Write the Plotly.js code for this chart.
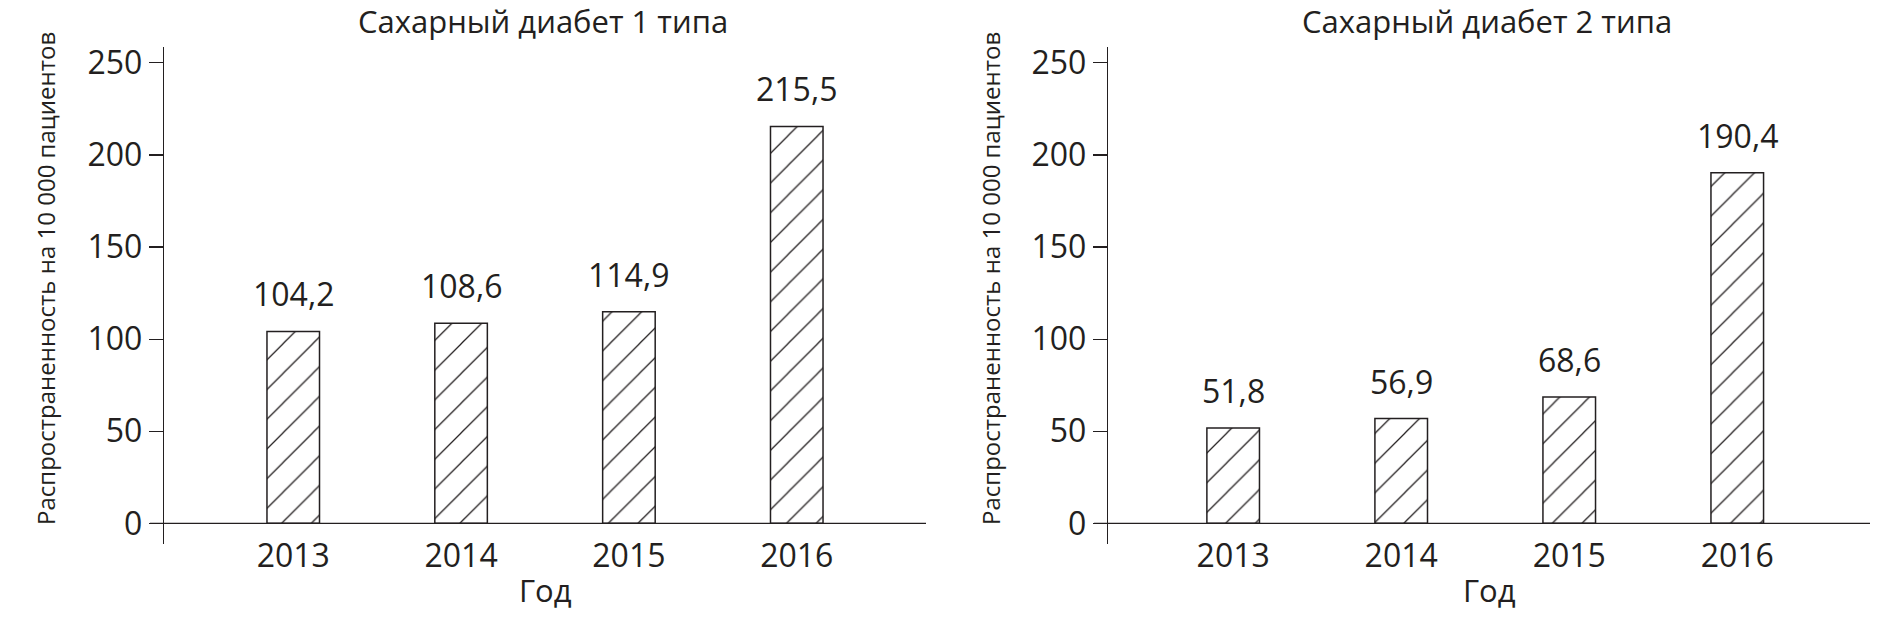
<!DOCTYPE html>
<html>
<head>
<meta charset="utf-8">
<script src="https://cdn.plot.ly/plotly-3.0.1.min.js"></script>
<style>
  html, body { margin: 0; padding: 0; background: #ffffff; }
  #chart { width: 1891px; height: 623px; }
</style>
</head>
<body>
<div id="chart"></div>
<script>
// ---- data ----
const years = ['2013', '2014', '2015', '2016'];
const type1Values = [104.2, 108.6, 114.9, 215.5];
const type2Values = [51.8, 56.9, 68.6, 190.4];
const panelTitles = ['Сахарный диабет 1 типа', 'Сахарный диабет 2 типа'];
const yAxisTitle = 'Распространенность на 10 000 пациентов';
const xAxisTitle = 'Год';
const yTickVals = [0, 50, 100, 150, 200, 250];

// ---- styling ----
const INK = '#231f20';
const FONT = 'Open Sans, Noto Sans, Arial, sans-serif';
const W = 1891, H = 623;
const px = v => v / W;          // horizontal pixel -> paper
const py = v => (H - v) / H;    // vertical pixel (from top) -> paper

function fmt(v) { return v.toFixed(1).replace('.', ','); }

function barTrace(values, xa, ya) {
  return {
    type: 'bar',
    x: years,
    y: values,
    xaxis: xa,
    yaxis: ya,
    width: 0.313,
    marker: {
      color: '#ffffff',
      line: { color: INK, width: 1.5 },
      pattern: { shape: '/', fgcolor: INK, bgcolor: '#ffffff', size: 21, solidity: 0.06 }
    },
    hoverinfo: 'x+y',
    showlegend: false
  };
}

const data = [
  barTrace(type1Values, 'x', 'y'),
  barTrace(type2Values, 'x2', 'y2')
];

const yDomain = [py(544), py(47)];
const yRange = [-11.2, 258.6];

function yAxis(anchor) {
  return {
    domain: yDomain,
    range: yRange,
    anchor: anchor,
    tickvals: yTickVals,
    ticks: 'outside',
    ticklen: 14,
    tickwidth: 1.3,
    tickcolor: INK,
    showline: true,
    linecolor: INK,
    linewidth: 1.3,
    showgrid: false,
    zeroline: false,
    tickfont: { family: FONT, size: 32, color: INK },
    fixedrange: true
  };
}

function xAxis(domain, range) {
  return {
    domain: domain,
    range: range,
    type: 'category',
    categoryorder: 'array',
    categoryarray: years,
    anchor: 'free',
    position: py(523.3),
    showline: false,
    showgrid: false,
    zeroline: false,
    ticks: 'outside',
    ticklen: 4,
    tickcolor: 'rgba(0,0,0,0)',
    tickfont: { family: FONT, size: 32, color: INK },
    fixedrange: true
  };
}

const annotations = [];
// value labels (x given as category index on the category axis)
[[type1Values, 'x', 'y'], [type2Values, 'x2', 'y2']].forEach(([vals, xa, ya]) => {
  vals.forEach((v, i) => {
    annotations.push({
      x: i, y: v, xref: xa, yref: ya,
      text: fmt(v), showarrow: false,
      xanchor: 'center', yanchor: 'bottom', yshift: 14,
      font: { family: FONT, size: 32, color: INK }
    });
  });
});
// panel titles
annotations.push({ x: px(543), y: py(21), xref: 'paper', yref: 'paper', text: panelTitles[0],
  showarrow: false, xanchor: 'center', yanchor: 'middle', font: { family: FONT, size: 31, color: INK } });
annotations.push({ x: px(1487), y: py(21), xref: 'paper', yref: 'paper', text: panelTitles[1],
  showarrow: false, xanchor: 'center', yanchor: 'middle', font: { family: FONT, size: 31, color: INK } });
// y axis titles
annotations.push({ x: px(45), y: py(279), xref: 'paper', yref: 'paper', text: yAxisTitle, textangle: -90,
  showarrow: false, xanchor: 'center', yanchor: 'middle', font: { family: FONT, size: 24, color: INK } });
annotations.push({ x: px(990), y: py(279), xref: 'paper', yref: 'paper', text: yAxisTitle, textangle: -90,
  showarrow: false, xanchor: 'center', yanchor: 'middle', font: { family: FONT, size: 24, color: INK } });
// x axis titles
annotations.push({ x: px(545), y: py(590), xref: 'paper', yref: 'paper', text: xAxisTitle,
  showarrow: false, xanchor: 'center', yanchor: 'middle', font: { family: FONT, size: 31, color: INK } });
annotations.push({ x: px(1489), y: py(590), xref: 'paper', yref: 'paper', text: xAxisTitle,
  showarrow: false, xanchor: 'center', yanchor: 'middle', font: { family: FONT, size: 31, color: INK } });

// horizontal axis baselines at y = 0 (extend left by tick length like the original)
const shapes = [
  { type: 'line', xref: 'paper', yref: 'y', x0: px(150), x1: px(926), y0: 0, y1: 0,
    line: { color: INK, width: 1.3 } },
  { type: 'line', xref: 'paper', yref: 'y2', x0: px(1094), x1: px(1870), y0: 0, y1: 0,
    line: { color: INK, width: 1.3 } }
];

const layout = {
  width: W,
  height: H,
  margin: { l: 0, r: 0, t: 0, b: 0, pad: 0 },
  paper_bgcolor: '#ffffff',
  plot_bgcolor: '#ffffff',
  separators: ', ',
  showlegend: false,
  bargap: 0.5,
  xaxis: xAxis([px(164), px(926)], [-0.77, 3.77]),
  yaxis: yAxis('x'),
  xaxis2: xAxis([px(1108), px(1870)], [-0.745, 3.79]),
  yaxis2: yAxis('x2'),
  annotations: annotations,
  shapes: shapes,
  font: { family: FONT, color: INK }
};

Plotly.newPlot('chart', data, layout, { displayModeBar: false, staticPlot: true });
</script>
</body>
</html>
